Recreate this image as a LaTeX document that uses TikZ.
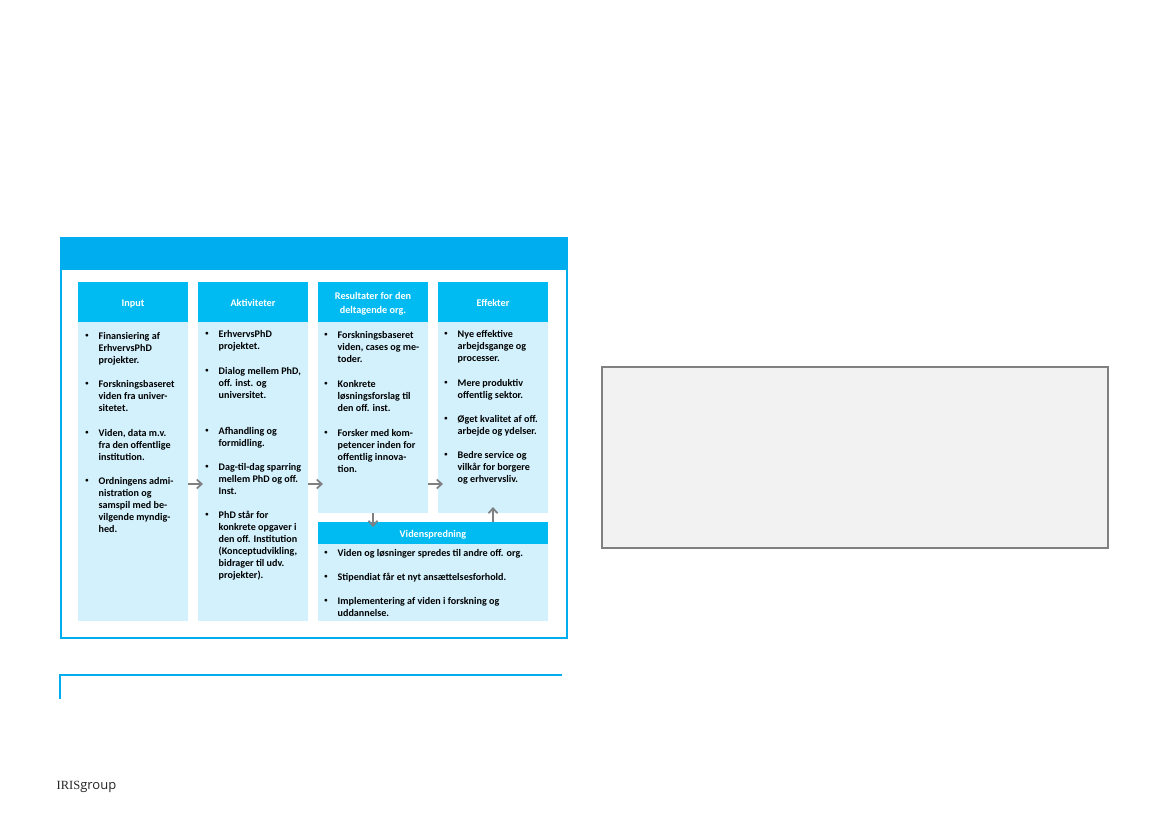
\documentclass[tikz,border=0pt]{standalone}
\usepackage{fontspec}
\setmainfont{Carlito}
\newfontfamily\logoserif{Liberation Serif}
\newfontfamily\logosans{Open Sans}
\usetikzlibrary{arrows.meta}
\definecolor{frameblue}{HTML}{00ADEF}
\definecolor{headblue}{HTML}{00BBF2}
\definecolor{bodyblue}{HTML}{D2F1FD}
\definecolor{greyedge}{HTML}{808080}
\definecolor{greyfill}{HTML}{F2F2F2}
\tikzset{
  x=1pt,y=-1pt,
  blockbox/.style={fill=bodyblue,draw=none,inner sep=0,outer sep=0,minimum width=110pt,anchor=north west},
  headbox/.style={fill=headblue,draw=none,inner sep=0,outer sep=0,minimum width=110pt,minimum height=40pt,anchor=north west,
    text=white,align=center,font=\fontsize{10.2}{12}\selectfont\bfseries},
  itemtext/.style={anchor=north west,inner sep=0,align=left,font=\fontsize{10.1}{12}\selectfont\bfseries,text=black},
  bulletdot/.style={inner sep=0,font=\fontsize{6.5}{7}\selectfont\bfseries,text=black},
  flow/.style={draw=greyedge,line width=1.7pt,-{Straight Barb[length=5pt,width=9pt]}},
  plainbox/.style={inner sep=0,outer sep=0,anchor=north west},
}
\newcommand{\hs}{\rule[-2.5pt]{0pt}{13.5pt}}
\newcommand{\bul}[4]{%
  \node[bulletdot] (#1b) at (#2,#3) {•};
  \node[itemtext] (#1) at (#2+11.5,#3-5.4) {\strut #4};}
\begin{document}
\begin{tikzpicture}
\useasboundingbox (0,0) rectangle (1169,826);
\fill[white] (0,0) rectangle (1169,826);
% main frame
\node[plainbox,draw=frameblue,line width=2pt,fill=white,minimum width=506pt,minimum height=400pt] (frame) at (61,238) {};
\node[plainbox,fill=frameblue,minimum width=505pt,minimum height=33pt] (band) at (62,237) {};
% columns
\node[blockbox,minimum height=299pt] (inbody) at (78,322) {};
\node[blockbox,minimum height=299pt] (akbody) at (198,322) {};
\node[blockbox,minimum height=191pt] (rebody) at (318,322) {};
\node[blockbox,minimum height=191pt] (efbody) at (438,322) {};
\node[headbox] (inhead) at (78,282) {\hs Input};
\node[headbox] (akhead) at (198,282) {\hs Aktiviteter};
\node[headbox] (rehead) at (318,282) {\hs Resultater for den\\\hs deltagende org.};
\node[headbox] (efhead) at (438,282) {\hs Effekter};
\node[blockbox,minimum width=230pt,minimum height=77pt] (vibody) at (318,544) {};
\node[headbox,minimum width=230pt,minimum height=22pt] (vihead) at (318,522) {\hs Videnspredning};
% input
\bul{ia}{87}{336}{Finansiering af\\ErhvervsPhD\\projekter.}
\bul{ib}{87}{384}{Forskningsbaseret\\viden fra univer-\\sitetet.}
\bul{ic}{87}{433}{Viden, data m.v.\\fra den offentlige\\institution.}
\bul{id}{87}{481}{Ordningens admi-\\nistration og\\samspil med be-\\vilgende myndig-\\hed.}
% aktiviteter
\bul{aa}{207}{334}{ErhvervsPhD\\projektet.}
\bul{ab}{207}{371}{Dialog mellem PhD,\\off. inst. og\\universitet.}
\bul{ac}{207}{431}{Afhandling og\\formidling.}
\bul{ad}{207}{467}{Dag-til-dag sparring\\mellem PhD og off.\\Inst.}
\bul{ae}{207}{515}{PhD står for\\konkrete opgaver i\\den off. Institution\\(Konceptudvikling,\\bidrager til udv.\\projekter).}
% resultater
\bul{ra}{326}{335}{Forskningsbaseret\\viden, cases og me-\\toder.}
\bul{rb}{326}{384}{Konkrete\\løsningsforslag til\\den off. inst.}
\bul{rc}{326}{433}{Forsker med kom-\\petencer inden for\\offentlig innova-\\tion.}
% effekter
\bul{ea}{446}{334}{Nye effektive\\arbejdsgange og\\processer.}
\bul{eb}{446}{383}{Mere produktiv\\offentlig sektor.}
\bul{ec}{446}{419}{Øget kvalitet af off.\\arbejde og ydelser.}
\bul{ed}{446}{455}{Bedre service og\\vilkår for borgere\\og erhvervsliv.}
% videnspredning
\bul{va}{326}{553}{Viden og løsninger spredes til andre off. org.}
\bul{vb}{326}{577}{Stipendiat får et nyt ansættelsesforhold.}
\bul{vc}{326}{601}{Implementering af viden i forskning og\\uddannelse.}
% connectors
\coordinate (tipa) at (203,484);
\coordinate (tipb) at (323,484);
\coordinate (tipc) at (443,484);
\coordinate (tipd) at (373,527);
\coordinate (tipe) at (493,507);
\draw[flow] (inbody.east |- tipa) -- (tipa);
\draw[flow] (akbody.east |- tipb) -- (tipb);
\draw[flow] (rebody.east |- tipc) -- (tipc);
\draw[flow] (rebody.south) -- (tipd);
\draw[flow] (vihead.north -| tipe) -- (tipe);
% grey box
\node[plainbox,draw=greyedge,fill=greyfill,line width=2pt,minimum width=506pt,minimum height=181pt] (greybox) at (602,367) {};
% caption rule
\coordinate (ruletop) at (60,675);
\coordinate (ruleend) at (562,675);
\coordinate (rulefoot) at (60,699);
\draw[frameblue,line width=2pt] (rulefoot) -- (ruletop) -- (ruleend);
% logo
\node[anchor=base west,inner sep=0,text=black!85] (logo) at (56.5,789) {\fontsize{12.5}{13}\selectfont{\logoserif IRIS}{\logosans\fontsize{13}{13}\selectfont group}};
\end{tikzpicture}
\end{document}
